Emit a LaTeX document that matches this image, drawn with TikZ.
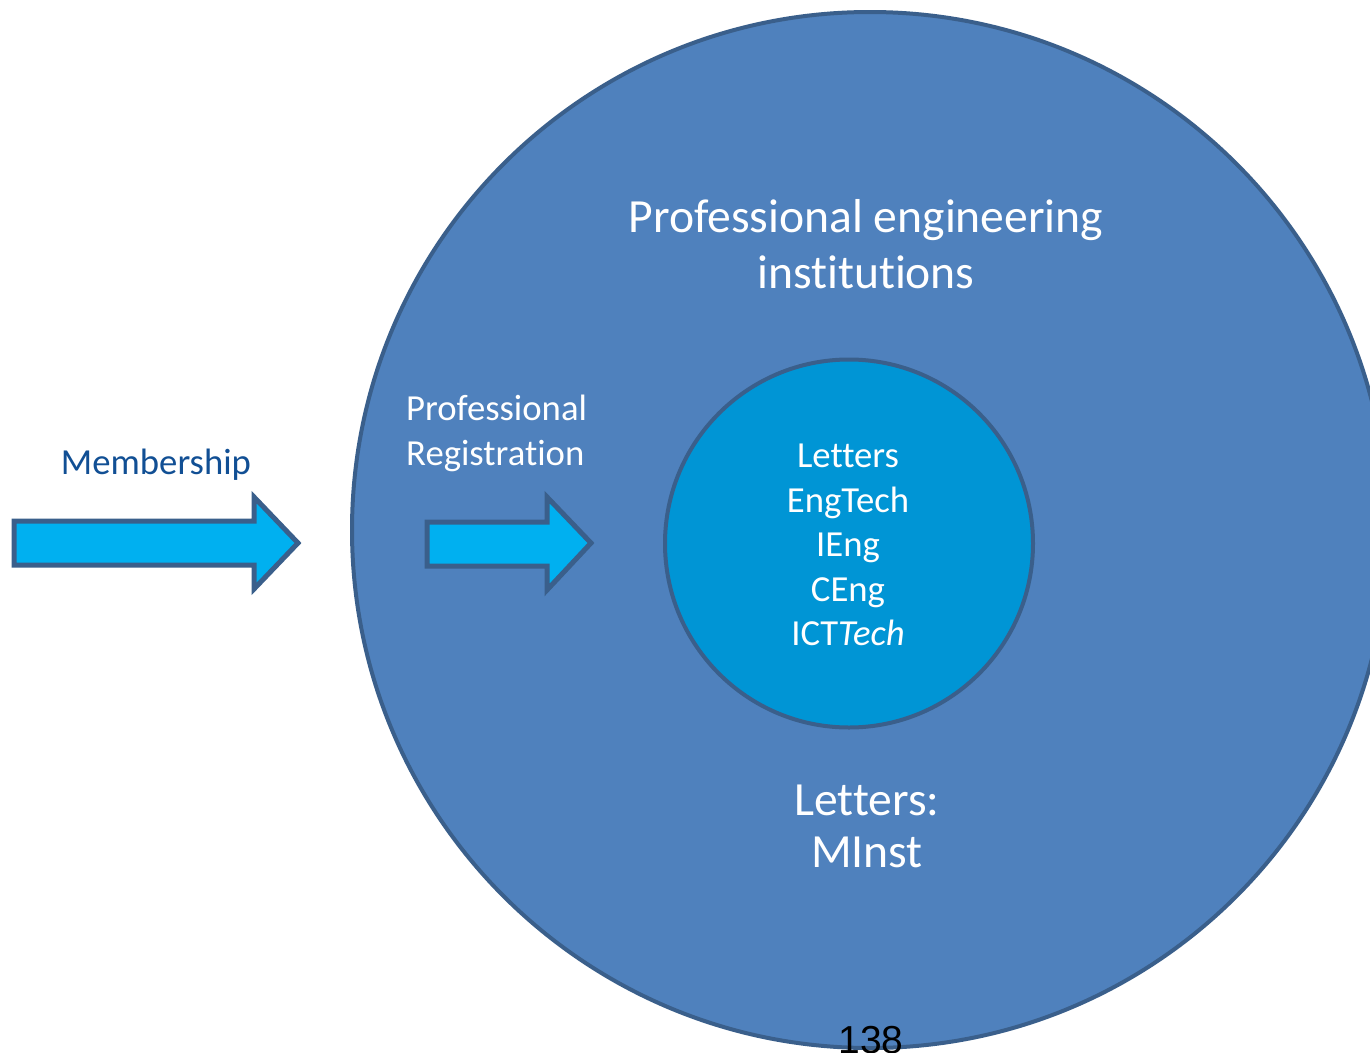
\documentclass[tikz,border=0pt]{standalone}
\usepackage{fontspec}
\setmainfont[Ligatures=NoCommon,RawFeature={-liga}]{Carlito}
\newfontfamily\arialfont{Liberation Sans}
\definecolor{outerfill}{HTML}{4F81BD}
\definecolor{edgeblue}{HTML}{3A5F8B}
\definecolor{innerfill}{HTML}{0095D5}
\definecolor{arrowfill}{HTML}{00B0F0}
\definecolor{membblue}{HTML}{114F94}
\begin{document}
\begin{tikzpicture}[x=1pt,y=-1pt,
  ring/.style={circle,draw=edgeblue,line width=4pt,inner sep=0pt},
  bigtxt/.style={text=white,font=\fontsize{47.6}{58}\selectfont,anchor=base,inner sep=0pt},
  midtxt/.style={font=\fontsize{36.7}{45}\selectfont,anchor=base,inner sep=0pt},
  arrowshape/.style={fill=arrowfill,draw=edgeblue,line width=5pt,line join=miter}]
\useasboundingbox (0,0) rectangle (1370,1052);
\clip (0,0) rectangle (1370,1052);
\node[ring,fill=outerfill,minimum size=1036pt] (outer) at (870,530) {};
\node[ring,fill=innerfill,minimum size=368pt] (inner) at (849,543.5) {};
% arrows
\draw[arrowshape] (14,521) -- (254,521) -- (254,497) -- (298,543) -- (254,589) -- (254,565) -- (14,565) -- cycle;
\draw[arrowshape] (427,522) -- (547,522) -- (547,497) -- (591,543) -- (547,590) -- (547,566) -- (427,566) -- cycle;
% texts
\node[bigtxt] (t1) at (866,232) {Professional engineering};
\node[bigtxt] (t2) at (866,288) {institutions};
\node[bigtxt] (l1) at (867,815) {Letters:};
\node[bigtxt] (l2) at (867,867) {MInst};
\node[midtxt,text=white] (i1) at (848,467) {Letters};
\node[midtxt,text=white] (i2) at (848,512) {EngTech};
\node[midtxt,text=white] (i3) at (848,556) {IEng};
\node[midtxt,text=white] (i4) at (848,601) {CEng};
\node[midtxt,text=white] (i5) at (848,645) {ICT\textit{Tech}};
\node[midtxt,text=white,anchor=base west] (r1) at (406,420) {Professional};
\node[midtxt,text=white,anchor=base west] (r2) at (406,465) {Registration};
\node[midtxt,text=membblue] (m1) at (156,474) {Membership};
\node[font=\arialfont\fontsize{39}{47}\selectfont,anchor=base,inner sep=0pt] (pg) at (871,1053) {138};
\end{tikzpicture}
\end{document}
